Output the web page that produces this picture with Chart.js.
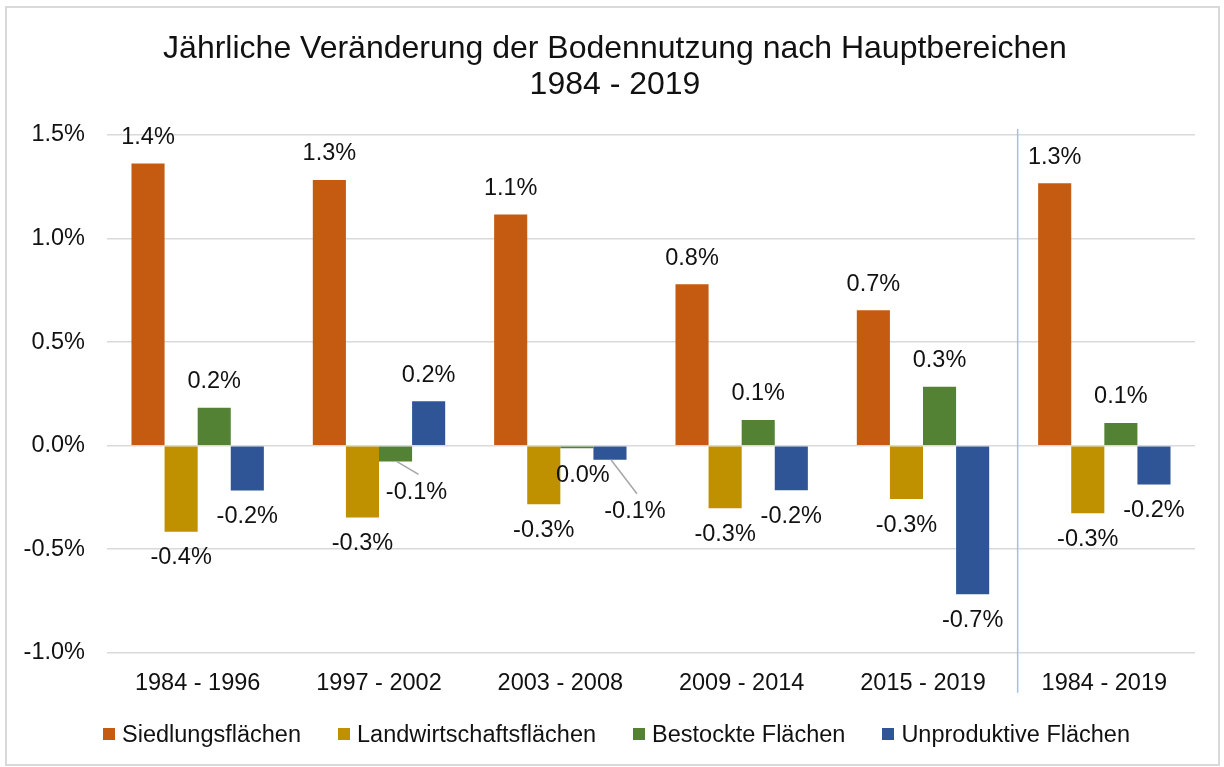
<!DOCTYPE html>
<html>
<head>
<meta charset="utf-8">
<script src="https://cdn.jsdelivr.net/npm/chart.js@4.4.1/dist/chart.umd.min.js"></script>
<style>
	html, body { margin: 0; padding: 0; background: #fff; }
	#wrap { width: 1224px; height: 767px; position: relative; }
	#legend { position: absolute; left: 103px; top: 720px; display: flex; font: 23.5px "Liberation Sans", Arial, sans-serif; color: #111; line-height: 28px; }
	#legend .item { display: flex; align-items: center; white-space: nowrap; margin-right: 37px; }
	#legend .box { width: 12px; height: 12px; margin-right: 7px; }
</style>
</head>
<body>
<div id="wrap">
	<canvas id="bodenChart"></canvas>
	<div id="legend"></div>
</div>
<script>
// categories (periods)
const periods = ['1984 - 1996', '1997 - 2002', '2003 - 2008', '2009 - 2014', '2015 - 2019', '1984 - 2019'];

// yearly change in %
const siedlung = [1.363, 1.283, 1.116, 0.779, 0.654, 1.267];
const landwirtschaft = [-0.415, -0.347, -0.283, -0.302, -0.258, -0.326];
const bestockt = [0.183, -0.076, -0.012, 0.124, 0.285, 0.110];
const unproduktiv = [-0.216, 0.214, -0.068, -0.215, -0.717, -0.187];

const yTicks = [-1.0, -0.5, 0.0, 0.5, 1.0, 1.5];

const FONT = '"Liberation Sans", Arial, sans-serif';
const TEXT = '#111111';
const FS = 23.5;

// labels that Excel moved aside (dataset-index) -> shift + leader line
const labelShift = {
	'2-1': { dx: 21, dy: 5, leader: true },
	'2-2': { dx: 6, dy: 1, leader: false },
	'3-2': { dx: 25, dy: 26, leader: true }
};

const frame = {
	id: 'frame',
	afterLayout (chart) {
		// let the y tick labels use the space left of the axis box
		chart.scales.y.left = 0;
	},
	beforeDraw (chart) {
		const c = chart.ctx;
		c.save();
		c.fillStyle = '#fff';
		c.fillRect(0, 0, chart.width, chart.height);
		c.strokeStyle = '#d9d9d9';
		c.lineWidth = 2;
		c.strokeRect(6, 7, 1213, 758);
		c.restore();
	},
	afterDraw (chart) {
		// separator before the whole-period group
		const x = chart.scales.x;
		const sepX = (x.getPixelForValue(4) + x.getPixelForValue(5)) / 2 + 4;
		const c = chart.ctx;
		c.save();
		c.strokeStyle = '#9dc3e6';
		c.lineWidth = 1.5;
		c.beginPath();
		c.moveTo(sepX, chart.chartArea.top - 6);
		c.lineTo(sepX, chart.chartArea.bottom + 40);
		c.stroke();
		c.restore();
	}
};

const valueLabels = {
	id: 'valueLabels',
	afterDatasetsDraw (chart) {
		const c = chart.ctx;
		c.save();
		c.font = FS + 'px ' + FONT;
		c.fillStyle = TEXT;
		c.textAlign = 'center';
		c.textBaseline = 'middle';
		chart.data.datasets.forEach((ds, di) => {
			chart.getDatasetMeta(di).data.forEach((bar, i) => {
				const v = ds.data[i];
				let txt = v.toFixed(1);
				if (txt === '-0.0') txt = '0.0';
				const sign = v >= 0 ? -1 : 1;
				let lx = bar.x;
				let ly = bar.y + sign * 26;
				const s = labelShift[di + '-' + i];
				if (s) {
					lx += s.dx;
					ly += s.dy;
					if (s.leader) {
						c.strokeStyle = '#a6a6a6';
						c.lineWidth = 1.5;
						c.beginPath();
						c.moveTo(bar.x + 1, bar.y);
						c.lineTo(lx + 2, ly - 18);
						c.stroke();
					}
				}
				c.fillText(txt + '%', lx, ly);
			});
		});
		c.restore();
	}
};

const ctx = document.getElementById('bodenChart').getContext('2d');

const data = {
	labels: periods,
	datasets: [
		{ label: 'Siedlungsflächen', data: siedlung, backgroundColor: '#c55a11' },
		{ label: 'Landwirtschaftsflächen', data: landwirtschaft, backgroundColor: '#bf9000' },
		{ label: 'Bestockte Flächen', data: bestockt, backgroundColor: '#548235' },
		{ label: 'Unproduktive Flächen', data: unproduktiv, backgroundColor: '#2f5597' }
	]
};

const options = {
	responsive: false,
	animation: false,
	devicePixelRatio: 1,
	layout: { padding: { left: 35, right: 29, top: 0, bottom: 52 } },
	datasets: {
		bar: { categoryPercentage: 0.73, barPercentage: 1.0 }
	},
	plugins: {
		title: {
			display: true,
			text: ['Jährliche Veränderung der Bodennutzung nach Hauptbereichen', '1984 - 2019'],
			color: TEXT,
			font: { family: FONT, size: 32, weight: 'normal', lineHeight: 1.125 },
			padding: { top: 31, bottom: 32 }
		},
		legend: { display: false },
		tooltip: { enabled: false }
	},
	scales: {
		x: {
			grid: { display: false, drawTicks: false },
			border: { display: false },
			ticks: { color: TEXT, font: { family: FONT, size: FS }, padding: 17, maxRotation: 0 }
		},
		y: {
			min: yTicks[0],
			max: yTicks[yTicks.length - 1],
			afterBuildTicks (scale) {
				scale.ticks = yTicks.map(v => ({ value: v }));
			},
			afterFit (scale) {
				scale.width = 72;
			},
			grid: { color: '#d9d9d9', lineWidth: 1.5, drawTicks: false },
			border: { display: false },
			ticks: {
				color: TEXT,
				font: { family: FONT, size: FS },
				padding: 22,
				callback: v => v.toFixed(1) + '%'
			}
		}
	}
};

const canvas = document.getElementById('bodenChart');
canvas.width = 1224;
canvas.height = 767;

const chart = new Chart(ctx, {
	type: 'bar',
	data: data,
	options: options,
	plugins: [frame, valueLabels]
});

// legend built from the datasets
const legendEl = document.getElementById('legend');
chart.data.datasets.forEach(ds => {
	const item = document.createElement('div');
	item.className = 'item';
	const box = document.createElement('span');
	box.className = 'box';
	box.style.background = ds.backgroundColor;
	const label = document.createElement('span');
	label.textContent = ds.label;
	item.appendChild(box);
	item.appendChild(label);
	legendEl.appendChild(item);
});
</script>
</body>
</html>
